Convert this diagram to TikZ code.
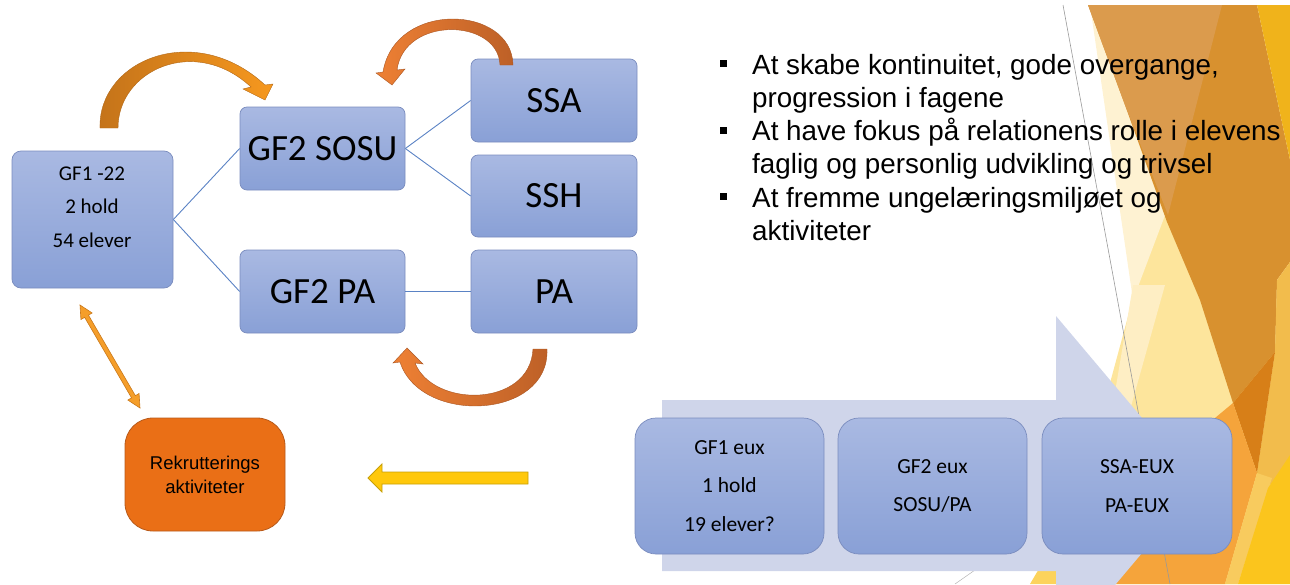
\documentclass[tikz,border=0pt]{standalone}
\usepackage{fontspec}
\setmainfont{Liberation Sans}
\newfontfamily\calfont{Carlito}
\usetikzlibrary{calc}
\definecolor{boxtop}{HTML}{A9B9E2}
\definecolor{boxbot}{HTML}{89A0D6}
\definecolor{boxline}{HTML}{7A8CBE}
\definecolor{connc}{HTML}{5A82C4}
\definecolor{lav}{HTML}{CFD5EA}
\definecolor{rekfill}{HTML}{EA6F16}
\definecolor{rekline}{HTML}{B85A1A}
\definecolor{yelfill}{HTML}{FFC80B}
\definecolor{yelline}{HTML}{C7A008}
\definecolor{fCream}{HTML}{FEF2D2}
\definecolor{fYel}{HTML}{FDE59C}
\definecolor{fCream2}{HTML}{FEEEC4}
\definecolor{fOr}{HTML}{D8912F}
\definecolor{fOrL}{HTML}{DB9B4D}
\definecolor{fGold}{HTML}{F0B31B}
\definecolor{fLGold}{HTML}{F2BC4C}
\definecolor{fDark}{HTML}{D77F18}
\definecolor{fBright}{HTML}{F5A43B}
\definecolor{fYB}{HTML}{FBC51D}
\definecolor{fStripe}{HTML}{F8CB5E}
\definecolor{fSliver}{HTML}{FCD35C}
\definecolor{arrAl}{HTML}{C4731A}
\definecolor{arrAr}{HTML}{F6981E}
\definecolor{arrBl}{HTML}{EE8034}
\definecolor{arrBr}{HTML}{BD6027}
\definecolor{dblfill}{HTML}{F59E2A}
\definecolor{dblline}{HTML}{C9781A}
\tikzset{
  box/.style={draw=boxline, line width=0.7pt, top color=boxtop, bottom color=boxbot, rounded corners=7pt, inner sep=0pt},
  eux/.style={box, rounded corners=21pt, minimum width=189pt, minimum height=136pt, font=\calfont\fontsize{21.5}{38.5}\selectfont, align=center},
  big/.style={font=\calfont\fontsize{37}{40}\selectfont},
  conn/.style={draw=connc, line width=0.9pt},
  btext/.style={font=\fontsize{27.8}{33}\selectfont, anchor=base west, inner sep=0pt},
  sq/.style={fill=black, minimum size=7pt, inner sep=0pt},
  arrA/.style={left color=arrAl, right color=arrAr, draw=arrAl!90!black, line width=0.4pt},
  arrB/.style={left color=arrBl, right color=arrBr, draw=arrBr!90!black, line width=0.4pt},
  dbl/.style={fill=dblfill, draw=dblline, line width=0.6pt},
}
\begin{document}
\begin{tikzpicture}[x=1pt,y=-1pt]
\useasboundingbox (0,0) rectangle (1290,584);
\begin{scope}
\clip (0,0) rectangle (1290,584);
% background facets
\fill[fYel] (1167,205) -- (1290,300) -- (1290,584) -- (1100,584) -- (1100,420) -- (1133,298) -- cycle;
\fill[fCream] (1090,5) -- (1150,5) -- (1167,210) -- (1133,300) -- cycle;
\fill[fCream2] (1133,285) -- (1165,285) -- (1130,410) -- (1112,410) -- cycle;
\fill[fOr] (1088,5) -- (1257,5) -- (1290,160) -- (1290,262) -- (1277,280) -- (1275,352) -- (1233,403) -- (1200,300) -- (1167,222) -- (1125,105) -- cycle;
\fill[fOrL] (1088,5) -- (1222,5) -- (1168,215) -- (1125,105) -- cycle;
\fill[fGold] (1257,5) -- (1290,5) -- (1290,160) -- cycle;
\fill[fLGold] (1277,280) -- (1290,262) -- (1290,460) -- (1262,495) -- (1257,473) -- (1275,352) -- cycle;
\fill[fDark] (1275,352) -- (1233,403) -- (1257,473) -- cycle;
\fill[fBright] (1233,403) -- (1257,473) -- (1225,584) -- (1115,584) -- (1160,480) -- (1215,418) -- cycle;
\fill[fStripe] (1257,473) -- (1272,478) -- (1238,584) -- (1225,584) -- cycle;
\fill[fYB] (1290,455) -- (1290,584) -- (1238,584) -- (1268,488) -- cycle;
\fill[fSliver] (1030,584) -- (1056,540) -- (1070,584) -- cycle;
\draw[black!40, line width=0.6pt] (1063,5) -- (1170,584);
\draw[black!30, line width=0.5pt] (955,584) -- (995,556);
% big light arrow
\fill[lav] (662,400) -- (1056,400) -- (1056,316) -- (1199,485.5) -- (1056,655) -- (1056,571) -- (662,571) -- cycle;
\end{scope}

% top diagram boxes
\node[box, rounded corners=9pt, minimum width=161pt, minimum height=137pt] (gf1) at (92.5,219.5) {};
\node[font=\calfont\fontsize{21}{33.5}\selectfont, align=center, inner sep=0pt] (gf1t) at (92,207) {GF1 -22\\2 hold\\54 elever};
\node[box, big, minimum width=165pt, minimum height=83pt] (sosu) at (322.5,148.5) {GF2 SOSU};
\node[box, big, minimum width=166pt, minimum height=83pt] (ssa) at (554,100.5) {SSA};
\node[box, big, minimum width=166pt, minimum height=82pt] (ssh) at (554,196) {SSH};
\node[box, big, minimum width=165pt, minimum height=83pt] (gfpa) at (322.5,291.5) {GF2 PA};
\node[box, big, minimum width=166pt, minimum height=83pt] (pa) at (554,291.5) {PA};

\draw[conn] (gf1.east) -- (sosu.west);
\draw[conn] (gf1.east) -- (gfpa.west);
\draw[conn] (sosu.east) -- (ssa.west);
\draw[conn] (sosu.east) -- (ssh.west);
\draw[conn] (gfpa.east) -- (pa.west);

% curved arrows
\path[arrA] (100,128) .. controls (98,60) and (195,20) .. (265,85) -- (273,84) -- (265,100) -- (243,89) -- (251,87) .. controls (195,35) and (118,70) .. (118,128) -- cycle;
\path[arrB] (513,65) .. controls (512,5) and (395,0) .. (383,72) -- (376,73) -- (392,85) -- (405,69) -- (397,70) .. controls (404,16) and (498,18) .. (500,65) -- cycle;
\path[arrB] (547,349) .. controls (550,420) and (420,425) .. (400,362) -- (393,363) -- (407,348) -- (423,364) -- (415,363) .. controls (433,408) and (530,408) .. (533,349) -- cycle;

% recruitment box
\node[draw=rekline, line width=0.8pt, fill=rekfill, rounded corners=28pt, minimum width=160pt, minimum height=113pt, align=center, font=\fontsize{18.5}{24}\selectfont] (rek) at (205,474.5) {Rekrutterings\\aktiviteter};

% double arrow between gf1 and rek
\coordinate (da1) at (80,305);
\coordinate (da2) at (140,408);
\coordinate (p1) at ($(da1)!13pt!(da2)$);
\coordinate (p2) at ($(da2)!13pt!(da1)$);
\path[dbl] (da1) -- ($(p1)!6.5pt!90:(da2)$) -- ($(p1)!2.2pt!90:(da2)$) -- ($(p2)!2.2pt!-90:(da1)$) -- ($(p2)!6.5pt!-90:(da1)$) -- (da2) -- ($(p2)!6.5pt!90:(da1)$) -- ($(p2)!2.2pt!90:(da1)$) -- ($(p1)!2.2pt!-90:(da2)$) -- ($(p1)!6.5pt!-90:(da2)$) -- cycle;

% yellow arrow
\path[fill=yelfill, draw=yelline, line width=0.8pt] (528,472) -- (382,472) -- (382,464) -- (368,478) -- (382,492) -- (382,484) -- (528,484) -- cycle;

% bottom EUX boxes
\node[eux] (eux1) at (729.5,486) {GF1 eux\\1 hold\\19 elever?};
\node[eux] (eux2) at (932.5,486) {GF2 eux\\SOSU/PA};
\node[eux, minimum width=190pt] (eux3) at (1137,486) {SSA-EUX\\PA-EUX};

% bullets
\node[sq] (sq1) at (723,63.5) {};
\node[sq] (sq2) at (723,130.1) {};
\node[sq] (sq3) at (723,196.7) {};
\node[btext] (l1) at (752,74) {At skabe kontinuitet, gode overgange,};
\node[btext] (l2) at (752,107.3) {progression i fagene};
\node[btext] (l3) at (752,140.6) {At have fokus på relationens rolle i elevens};
\node[btext] (l4) at (752,173.9) {faglig og personlig udvikling og trivsel};
\node[btext] (l5) at (752,207.2) {At fremme ungelæringsmiljøet og};
\node[btext] (l6) at (752,240.5) {aktiviteter};
\end{tikzpicture}
\end{document}
